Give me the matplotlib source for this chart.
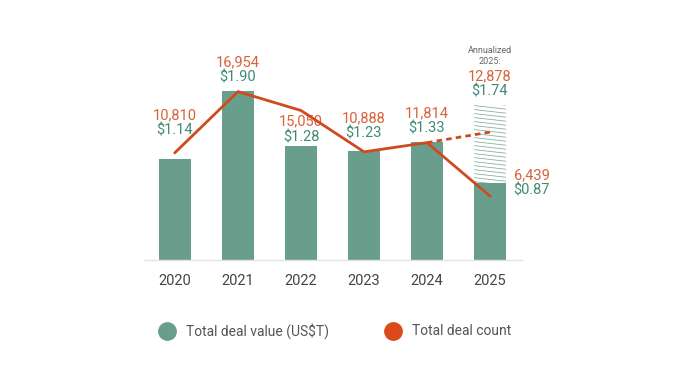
import numpy as np
import matplotlib.pyplot as plt
from matplotlib.lines import Line2D
from matplotlib.patches import Rectangle

plt.rcParams['font.family'] = ['Roboto', 'DejaVu Sans']

years = ['2020', '2021', '2022', '2023', '2024', '2025']
deal_value = [1.14, 1.90, 1.28, 1.23, 1.33, 0.87]
deal_count = [10810, 16954, 15050, 10888, 11814, 6439]
value_labels = ['$1.14', '$1.90', '$1.28', '$1.23', '$1.33', '$0.87']
count_labels = ['10,810', '16,954', '15,050', '10,888', '11,814', '6,439']
annual_value = 1.74
annual_count = 12878

GREEN = '#699e8c'
GREEN_TXT = '#3f8b74'
ORANGE = '#d04a1f'
ORANGE_TXT = '#d8623a'

fig = plt.figure(figsize=(7, 3.86), dpi=100)
ax = fig.add_axes([143.5 / 700, 1 - 260 / 386, 378 / 700, 215 / 386])
ax2 = ax.twinx()

vmax = 215 / 89.0
ax.set_ylim(0, vmax)
ax2.set_ylim(0, vmax * 8960)
ax.set_xlim(-0.5, 5.5)
for a in (ax, ax2):
    a.axis('off')

x = np.arange(len(years))
w = 0.5
ax.bar(x, deal_value, width=w, color=GREEN, zorder=2)

# annualized part of 2025, white with thin hatch lines
rect = Rectangle((x[-1] - w / 2, deal_value[-1]), w, annual_value - deal_value[-1],
                 facecolor='white', edgecolor='none', zorder=1)
ax.add_patch(rect)
for yy in np.arange(deal_value[-1] - 0.1, annual_value + 0.1, 0.045):
    ln, = ax.plot([x[-1] - w / 2, x[-1] + w / 2], [yy + 0.02, yy - 0.02],
                  color='#7fab9c', lw=0.55, zorder=1)
    ln.set_clip_path(rect)

ax.plot([-0.5, 5.5], [0, 0], color='#e3e3e3', lw=1, zorder=3, clip_on=False)

ax2.plot(x, deal_count, color=ORANGE, lw=2, zorder=4)
ax2.plot([x[-2], x[-1]], [deal_count[-2], annual_count], color=ORANGE, lw=2,
         ls=(0, (2, 1.5)), zorder=4)

# label gaps above bar tops (pixels)
gaps = [28, 13, 9, 17, 13]
px = 72 / 100
for i in range(5):
    ax.annotate(value_labels[i], (x[i], deal_value[i]), xytext=(0, gaps[i] * px),
                textcoords='offset points', ha='center', va='center',
                color=GREEN_TXT, fontsize=10.5)
    ax.annotate(count_labels[i], (x[i], deal_value[i]), xytext=(0, (gaps[i] + 15.5) * px),
                textcoords='offset points', ha='center', va='center',
                color=ORANGE_TXT, fontsize=10.5)

ax.annotate(value_labels[-1], (x[-1] + w / 2, deal_value[-1]), xytext=(8 * px, -8 * px),
            textcoords='offset points', ha='left', va='center',
            color=GREEN_TXT, fontsize=10.5)
ax.annotate(count_labels[-1], (x[-1] + w / 2, deal_value[-1]), xytext=(8 * px, 7.5 * px),
            textcoords='offset points', ha='left', va='center',
            color=ORANGE_TXT, fontsize=10.5)

ax.annotate('$1.74', (x[-1], annual_value), xytext=(0, 14 * px),
            textcoords='offset points', ha='center', va='center',
            color=GREEN_TXT, fontsize=10.5)
ax.annotate('{:,}'.format(annual_count), (x[-1], annual_value), xytext=(0, 28.5 * px),
            textcoords='offset points', ha='center', va='center',
            color=ORANGE_TXT, fontsize=10.5)
ax.annotate('Annualized\n2025:', (x[-1], annual_value), xytext=(0, 49 * px),
            textcoords='offset points', ha='center', va='center',
            color='#666666', fontsize=6.5, linespacing=1.3)

for i, yr in enumerate(years):
    ax.text(x[i], -21 / 89.0, yr, ha='center', va='center', color='#444444',
            fontsize=10.5)

# legend
ly = 1 - 331 / 386
fig.add_artist(Line2D([167 / 700], [ly], marker='o', ms=12.5, color=GREEN,
                      ls='none', transform=fig.transFigure))
fig.text(186 / 700, ly, 'Total deal value (US$T)', ha='left', va='center',
         color='#555555', fontsize=10)
fig.add_artist(Line2D([393 / 700], [ly], marker='o', ms=12.5, color='#dd4a1a',
                      ls='none', transform=fig.transFigure))
fig.text(412 / 700, ly, 'Total deal count', ha='left', va='center',
         color='#555555', fontsize=10)

fig.savefig('out.png', dpi=100)
